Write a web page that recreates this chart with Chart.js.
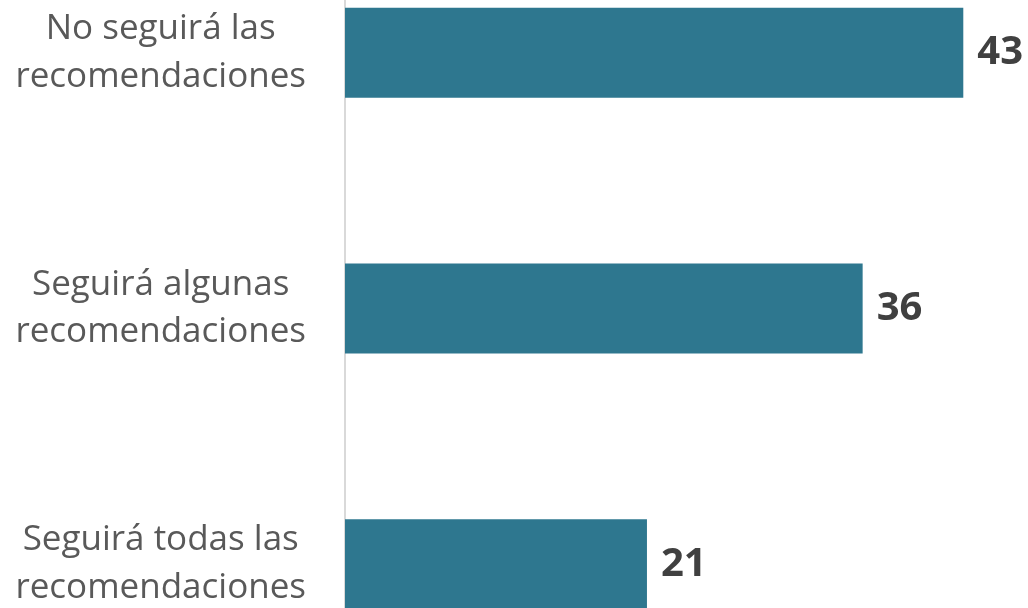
<!DOCTYPE html>
<html>
<head>
<meta charset="utf-8">
<script src="https://cdn.jsdelivr.net/npm/chart.js@4"></script>
<style>
  html, body { margin: 0; padding: 0; overflow: hidden; background: #fff; }
  #wrap { position: absolute; left: 0; top: -75px; width: 1028px; height: 767px; }
</style>
</head>
<body>
<div id="wrap"><canvas id="barChartArea"></canvas></div>
<script>
const categories = [
  ['No seguirá las', 'recomendaciones'],
  ['Seguirá algunas', 'recomendaciones'],
  ['Seguirá todas las', 'recomendaciones']
];
const values = [43, 36, 21];

// draws the value to the right of each bar
const valueLabels = {
  id: 'valueLabels',
  afterDatasetsDraw(chart) {
    const { ctx } = chart;
    const meta = chart.getDatasetMeta(0);
    ctx.save();
    ctx.font = 'bold 40px "Open Sans"';
    ctx.fillStyle = '#404040';
    ctx.textAlign = 'left';
    ctx.textBaseline = 'middle';
    meta.data.forEach((bar, i) => {
      ctx.fillText(values[i], bar.x + 14, bar.y);
    });
    ctx.restore();
  }
};

const ctx = document.getElementById('barChartArea');
const barChart = new Chart(ctx, {
  type: 'bar',
  data: {
    labels: categories,
    datasets: [{
      data: values,
      backgroundColor: '#2e778f',
      categoryPercentage: 1,
      barPercentage: 0.352
    }]
  },
  plugins: [valueLabels],
  options: {
    indexAxis: 'y',
    responsive: true,
    maintainAspectRatio: false,
    animation: false,
    plugins: {
      legend: { display: false },
      tooltip: { enabled: false }
    },
    layout: { padding: 0 },
    scales: {
      x: {
        display: false,
        min: 0,
        max: 47.5
      },
      y: {
        afterFit: scale => {
          scale.width = 345;
          scale.paddingTop = 0;
          scale.paddingBottom = 0;
        },
        grid: { display: false, drawTicks: false },
        border: { display: true, color: '#d9d9d9', width: 2 },
        ticks: {
          crossAlign: 'center',
          padding: 39,
          color: '#595959',
          font: { family: '"Open Sans"', size: 35, lineHeight: 1.36 }
        }
      }
    }
  }
});
</script>
</body>
</html>
